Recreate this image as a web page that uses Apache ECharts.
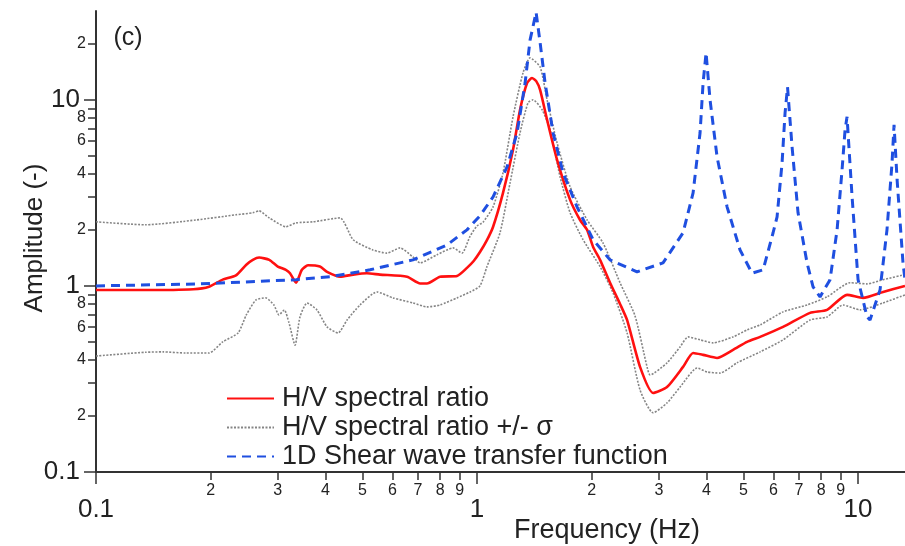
<!DOCTYPE html>
<html><head><meta charset="utf-8">
<script src="https://cdn.jsdelivr.net/npm/echarts@6/dist/echarts.min.js"></script>
<style>html,body{margin:0;padding:0;background:#fff}#c{width:905px;height:546px}</style>
</head><body><div id="c"></div>
<script>
// ---- data (frequency in Hz, amplitude -) ----
const hvFreq = [0.1,0.135,0.18,0.198,0.215,0.233,0.248,0.258,0.268,0.285,0.300,0.315,0.323,0.335,0.347,0.360,0.387,0.404,0.437,0.473,0.514,0.556,0.655,0.709,0.739,0.800,0.886,0.941,0.980,1.018,1.060,1.102,1.170,1.243,1.297,1.353,1.394,1.430,1.464,1.527,1.622,1.755,1.864,1.945,2.017,2.103,2.234,2.373,2.476,2.678,2.897,3.152,3.473,3.690,3.920,4.265,4.698,5.113,5.533,6.356,7.482,8.291,9.356,10.31,11.63,13.28];
const hvAmp  = [0.95,0.95,0.96,0.99,1.08,1.14,1.30,1.38,1.42,1.38,1.27,1.22,1.17,1.04,1.22,1.29,1.27,1.19,1.12,1.15,1.17,1.15,1.12,1.03,1.03,1.12,1.13,1.25,1.36,1.52,1.75,2.08,3.16,5.39,8.84,12.3,13.1,12.6,11.3,7.81,4.76,2.90,2.26,2.00,1.62,1.38,1.04,0.80,0.656,0.367,0.266,0.286,0.367,0.436,0.426,0.410,0.453,0.50,0.532,0.602,0.716,0.743,0.895,0.862,0.928,1.0];

const upFreq = [0.1,0.135,0.183,0.233,0.258,0.268,0.285,0.315,0.335,0.371,0.437,0.473,0.533,0.580,0.628,0.679,0.709,0.785,0.865,0.913,0.959,1.0,1.037,1.102,1.170,1.243,1.321,1.378,1.464,1.527,1.622,1.755,1.945,2.142,2.373,2.598,2.794,2.845,3.152,3.411,3.580,3.849,4.163,4.698,5.113,5.533,6.356,7.347,8.291,9.528,10.56,11.63,13.28];
const upAmp  = [2.21,2.13,2.26,2.41,2.47,2.53,2.32,2.08,2.18,2.21,2.32,1.77,1.56,1.50,1.60,1.43,1.33,1.47,1.60,1.50,1.85,2.10,2.20,2.66,4.05,8.10,14.0,16.8,15.0,10.0,5.87,3.41,2.26,1.70,1.04,0.69,0.367,0.332,0.386,0.47,0.532,0.513,0.494,0.532,0.58,0.617,0.725,0.79,0.873,1.04,1.025,1.08,1.15];

const loFreq = [0.1,0.135,0.15,0.172,0.198,0.215,0.236,0.248,0.263,0.279,0.293,0.302,0.312,0.321,0.333,0.343,0.358,0.380,0.404,0.432,0.456,0.493,0.546,0.602,0.679,0.739,0.800,0.886,0.959,1.018,1.062,1.149,1.221,1.297,1.361,1.403,1.482,1.555,1.652,1.755,1.898,2.103,2.275,2.476,2.678,2.897,3.152,3.411,3.780,4.015,4.343,4.813,5.533,6.356,7.482,8.291,9.133,10.12,11.63,13.28];
const loAmp  = [0.42,0.44,0.442,0.436,0.436,0.50,0.559,0.698,0.841,0.862,0.79,0.698,0.743,0.633,0.48,0.681,0.81,0.743,0.602,0.559,0.656,0.79,0.928,0.862,0.81,0.771,0.79,0.862,0.928,1.0,1.27,1.93,3.58,6.65,9.64,10.0,8.84,6.90,3.85,2.47,1.77,1.27,0.917,0.559,0.276,0.208,0.235,0.286,0.362,0.345,0.340,0.386,0.442,0.513,0.656,0.681,0.79,0.743,0.81,0.895];

const tfFreq = [0.1,0.1875,0.335,0.411,0.524,0.679,0.834,0.941,1.018,1.102,1.199,1.274,1.337,1.378,1.429,1.464,1.509,1.583,1.682,1.830,2.017,2.234,2.630,3.077,3.473,3.690,3.849,3.920,3.991,4.088,4.265,4.531,4.901,5.270,5.634,5.984,6.130,6.318,6.433,6.530,6.711,6.958,7.347,7.619,7.948,8.443,8.810,9.078,9.245,9.356,9.645,10.0,10.56,10.75,11.42,11.91,12.28,12.43,12.66,13.12,13.28];
const tfAmp  = [1.0,1.025,1.08,1.12,1.22,1.38,1.66,2.00,2.38,3.01,4.36,6.65,12.3,21.0,29.5,20.3,12.3,6.65,4.05,2.66,1.77,1.38,1.19,1.33,1.93,3.16,6.65,12.3,17.9,10.0,4.94,2.66,1.56,1.17,1.22,1.93,2.35,4.58,8.5,11.7,5.59,2.47,1.33,0.988,0.873,1.08,2.0,4.20,6.90,8.10,3.01,1.08,0.681,0.656,0.952,2.0,4.58,7.34,3.72,1.33,1.08];

const seriesNames = ['H/V spectral ratio', 'H/V spectral ratio +/- σ', '1D Shear wave transfer function'];

const X_MIN = 0.1, X_MAX = 13.28, Y_MIN = 0.1, Y_MAX = 30;
const xMajorTicks = [0.1, 1, 10];
const xMinorTicks = [0.2,0.3,0.4,0.5,0.6,0.7,0.8,0.9,2,3,4,5,6,7,8,9];
const xMinorLabels = xMinorTicks;
const yMajorTicks = [0.1, 1, 10];
const yMinorTicks = [0.2,0.3,0.4,0.5,0.6,0.7,0.8,0.9,2,3,4,5,6,7,8,9,20];
const yMinorLabels = [0.2,0.4,0.6,0.8,2,4,6,8,20];

// ---- chart ----
const FONT = "'Liberation Sans', Arial, sans-serif";
const AX = '#333';
const zip = (a, b) => a.map((v, i) => [v, b[i]]);
const lg = v => Math.log10(v);
const majorFmt = v => String(Number(Math.pow(10, v).toPrecision(6)));
const minorFmt = v => String(Math.round(Math.pow(10, v) / Math.pow(10, Math.floor(v + 1e-9))));

function overlayAxis(isX, lo, hi, ticks, labels, len, fmt, size, margin) {
  return {
    type: 'value', min: lg(lo), max: lg(hi),
    position: isX ? 'bottom' : 'left',
    axisLine: { show: false, onZero: false },
    axisTick: { show: true, customValues: ticks.map(lg), length: len, lineStyle: { color: AX, width: 1.5 } },
    axisLabel: { show: true, customValues: labels.map(lg), formatter: fmt, fontSize: size, fontFamily: FONT, color: '#222', margin: margin },
    splitLine: { show: false }
  };
}

const chart = echarts.init(document.getElementById('c'), null, { renderer: 'canvas' });
chart.setOption({
  animation: false,
  backgroundColor: '#fff',
  grid: { left: 96, right: 0, top: 11, bottom: 74, containLabel: false },
  xAxis: [
    { type: 'log', logBase: 10, min: X_MIN, max: X_MAX, position: 'bottom',
      axisLine: { show: true, onZero: false, lineStyle: { color: AX, width: 2 } },
      axisTick: { show: false }, axisLabel: { show: false }, splitLine: { show: false } },
    overlayAxis(true, X_MIN, X_MAX, xMajorTicks, xMajorTicks, 12, majorFmt, 26, 25),
    overlayAxis(true, X_MIN, X_MAX, xMinorTicks, xMinorLabels, 8, minorFmt, 16, 11)
  ],
  yAxis: [
    { type: 'log', logBase: 10, min: Y_MIN, max: Y_MAX, position: 'left',
      axisLine: { show: true, onZero: false, lineStyle: { color: AX, width: 2 } },
      axisTick: { show: false }, axisLabel: { show: false }, splitLine: { show: false } },
    overlayAxis(false, Y_MIN, Y_MAX, yMajorTicks, yMajorTicks, 12, majorFmt, 26, 16),
    overlayAxis(false, Y_MIN, Y_MAX, yMinorTicks, yMinorLabels, 8, minorFmt, 16, 10)
  ],
  legend: {
    data: seriesNames, orient: 'vertical', left: 221, top: 380,
    itemWidth: 47, itemHeight: 14, itemGap: 2,
    itemStyle: { opacity: 0 },
    textStyle: { fontSize: 27, fontFamily: FONT, color: '#222', padding: [0, 0, 0, 3] }
  },
  graphic: [
    { type: 'text', x: 128, y: 38, style: { text: '(c)', fontSize: 25, fontFamily: FONT, fill: '#222', align: 'center', verticalAlign: 'middle' } },
    { type: 'text', x: 35, y: 238, rotation: Math.PI / 2, style: { text: 'Amplitude (-)', fontSize: 26, fontFamily: FONT, fill: '#222', align: 'center', verticalAlign: 'middle' } },
    { type: 'text', x: 607, y: 531, style: { text: 'Frequency (Hz)', fontSize: 27, fontFamily: FONT, fill: '#222', align: 'center', verticalAlign: 'middle' } }
  ],
  series: [
    { name: seriesNames[1], type: 'line', xAxisIndex: 0, yAxisIndex: 0, data: zip(upFreq, upAmp), symbol: 'none', smooth: 0.2,
      lineStyle: { color: '#858585', width: 1.6, type: [2, 1.5] }, itemStyle: { color: '#858585' } },
    { name: seriesNames[1], type: 'line', xAxisIndex: 0, yAxisIndex: 0, data: zip(loFreq, loAmp), symbol: 'none', smooth: 0.2,
      lineStyle: { color: '#858585', width: 1.6, type: [2, 1.5] }, itemStyle: { color: '#858585' } },
    { name: seriesNames[0], type: 'line', xAxisIndex: 0, yAxisIndex: 0, data: zip(hvFreq, hvAmp), symbol: 'none', smooth: 0.2,
      lineStyle: { color: '#ff1010', width: 2.6 }, itemStyle: { color: '#ff1010' } },
    { name: seriesNames[2], type: 'line', xAxisIndex: 0, yAxisIndex: 0, data: zip(tfFreq, tfAmp), symbol: 'none',
      lineStyle: { color: '#1f4fe0', width: 3, type: [9, 6] }, itemStyle: { color: '#1f4fe0' } }
  ]
});
</script></body></html>
